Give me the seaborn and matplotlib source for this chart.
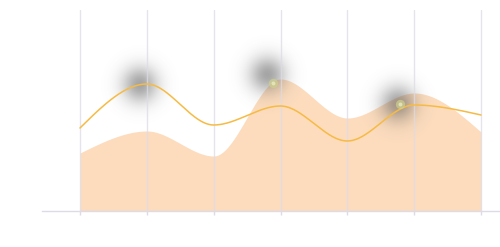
import numpy as np
import pandas as pd
import matplotlib
matplotlib.use("Agg")
import matplotlib.pyplot as plt
import seaborn as sns

# ---- data ----
categories = [0, 1, 2, 3, 4, 5, 6]
area_values = [58, 80, 55, 132, 93, 118, 79]
line_values = [83, 127, 86, 105, 70, 106, 96]
glow_x = [0.90, 2.80, 4.76]
glow_y = [126, 136, 107]
dot_x = [2.89, 4.79]
dot_y = [128, 107]


def monotone(xs, ys, n=500):
    """d3 curveMonotoneX smoothing, used only for rendering the curve."""
    xs = np.asarray(xs, float); ys = np.asarray(ys, float)
    h = np.diff(xs); d = np.diff(ys) / h
    m = np.zeros_like(ys)
    for i in range(1, len(ys) - 1):
        s0, s1 = d[i - 1], d[i]
        p = (s0 * h[i] + s1 * h[i - 1]) / (h[i - 1] + h[i])
        m[i] = (np.sign(s0) + np.sign(s1)) * min(abs(s0), abs(s1), 0.5 * abs(p))
    m[0] = (3 * d[0] - m[1]) / 2
    m[-1] = (3 * d[-1] - m[-2]) / 2
    xx = np.linspace(xs[0], xs[-1], n)
    yy = np.empty_like(xx)
    for k, x in enumerate(xx):
        i = min(np.searchsorted(xs, x, side="right") - 1, len(xs) - 2)
        t = (x - xs[i]) / h[i]
        h00 = 2 * t**3 - 3 * t**2 + 1
        h10 = t**3 - 2 * t**2 + t
        h01 = -2 * t**3 + 3 * t**2
        h11 = t**3 - t**2
        yy[k] = h00 * ys[i] + h10 * h[i] * m[i] + h01 * ys[i + 1] + h11 * h[i] * m[i + 1]
    return xx, yy


sns.set_style("white")
fig = plt.figure(figsize=(5.0, 2.47), dpi=100)
ax = fig.add_axes([42 / 500, 36 / 247, 458 / 500, 201 / 247])

px = 401 / 6.0
xmin = -38 / px
xmax = 6 + 19 / px
ax.set_xlim(xmin, xmax)
ax.set_ylim(0, 201)

grid_c = "#dddbe5"
for c in categories:
    ax.axvline(c, color=grid_c, lw=1.0, zorder=3, alpha=0.75)

ax_x, ay = monotone(categories, area_values)
ax.fill_between(ax_x, 0, ay, color="#fcdcbd", lw=0, zorder=1)

# soft shadow glows
res = 240
for gx, gy in zip(glow_x, glow_y):
    R = 48
    rx = R / px
    xs = np.linspace(gx - rx, gx + rx, res)
    ys = np.linspace(gy - R, gy + R, res)
    X, Y = np.meshgrid(xs, ys)
    r2 = ((X - gx) * px) ** 2 + (Y - gy) ** 2
    alpha = 0.55 * np.exp(-r2 / (2 * 12.5 ** 2))
    img = np.zeros((res, res, 4))
    img[..., :3] = 0.36
    img[..., 3] = alpha
    ax.imshow(img, extent=(gx - rx, gx + rx, gy - R, gy + R), origin="lower",
              aspect="auto", zorder=2, interpolation="bilinear")

lx, ly = monotone(categories, line_values)
df = pd.DataFrame({"x": lx, "y": ly})
sns.lineplot(data=df, x="x", y="y", ax=ax, color="#f6bb45", lw=1.1, zorder=4)

ax.scatter(dot_x, dot_y, s=45, color="#cfd08e", alpha=0.7, lw=0, zorder=5)
ax.scatter(dot_x, dot_y, s=8, color="#eef0c8", alpha=0.7, lw=0, zorder=6)

ax.set_xlim(xmin, xmax)
ax.set_ylim(0, 201)
ax.set_xticks(categories)
ax.set_xticklabels([])
ax.set_yticks([])
ax.set_xlabel("")
ax.set_ylabel("")
ax.tick_params(axis="x", length=3, width=1, color=grid_c, bottom=True)
for s in ["top", "right", "left"]:
    ax.spines[s].set_visible(False)
ax.spines["bottom"].set_color(grid_c)
ax.spines["bottom"].set_linewidth(1.0)
ax.set_facecolor("white")

fig.savefig("out.png", dpi=100)
